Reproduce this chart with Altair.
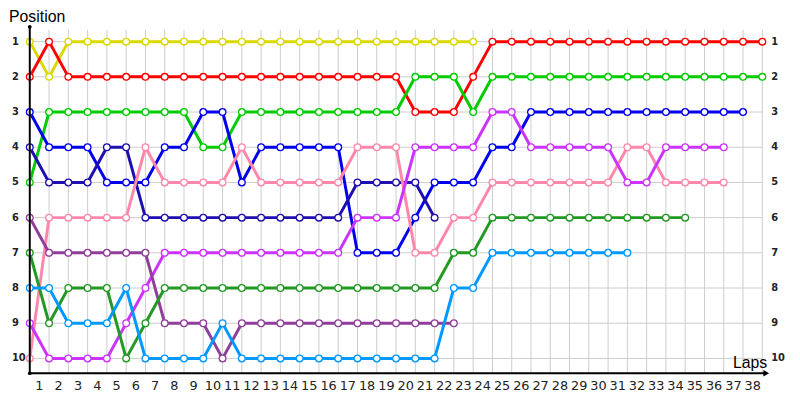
import altair as alt
import pandas as pd

# ---- data -------------------------------------------------------------
lap_ticks = list(range(1, 39))          # x tick labels / vertical grid
positions = list(range(1, 11))          # y labels / horizontal grid

drivers = ["yellow", "red", "green", "blue", "navy", "pink",
           "magenta", "darkpurple", "darkgreen", "lightblue"]
colors = ["#d9d900", "#ff0000", "#00cc00", "#0000ee", "#1f0fb0", "#ff88aa",
          "#cc33ff", "#8f3f99", "#229922", "#0099ff"]

# positions by lap, starting at lap 0
yellow = [1, 2, 1, 1, 1, 1, 1, 1, 1, 1, 1, 1, 1, 1, 1, 1, 1, 1, 1, 1, 1, 1, 1, 1]
red = [2, 1, 2, 2, 2, 2, 2, 2, 2, 2, 2, 2, 2, 2, 2, 2, 2, 2, 2, 2, 3, 3, 3, 2,
       1, 1, 1, 1, 1, 1, 1, 1, 1, 1, 1, 1, 1, 1, 1]
green = [5, 3, 3, 3, 3, 3, 3, 3, 3, 4, 4, 3, 3, 3, 3, 3, 3, 3, 3, 3, 2, 2, 2, 3,
         2, 2, 2, 2, 2, 2, 2, 2, 2, 2, 2, 2, 2, 2, 2]
blue = [3, 4, 4, 4, 5, 5, 5, 4, 4, 3, 3, 5, 4, 4, 4, 4, 4, 7, 7, 7, 6, 5, 5, 5,
        4, 4, 3, 3, 3, 3, 3, 3, 3, 3, 3, 3, 3, 3]
navy = [4, 5, 5, 5, 4, 4, 6, 6, 6, 6, 6, 6, 6, 6, 6, 6, 6, 5, 5, 5, 5, 6]
pink = [10, 6, 6, 6, 6, 6, 4, 5, 5, 5, 5, 4, 5, 5, 5, 5, 5, 4, 4, 4, 7, 7, 6, 6,
        5, 5, 5, 5, 5, 5, 5, 4, 4, 5, 5, 5, 5]
magenta = [9, 10, 10, 10, 10, 9, 8, 7, 7, 7, 7, 7, 7, 7, 7, 7, 7, 6, 6, 6, 4, 4, 4, 4,
           3, 3, 4, 4, 4, 4, 4, 5, 5, 4, 4, 4, 4]
darkpurple = [6, 7, 7, 7, 7, 7, 7, 9, 9, 9, 10, 9, 9, 9, 9, 9, 9, 9, 9, 9, 9, 9, 9]
darkgreen = [7, 9, 8, 8, 8, 10, 9, 8, 8, 8, 8, 8, 8, 8, 8, 8, 8, 8, 8, 8, 8, 8, 7, 7,
             6, 6, 6, 6, 6, 6, 6, 6, 6, 6, 6]
lightblue = [8, 8, 9, 9, 9, 8, 10, 10, 10, 10, 9, 10, 10, 10, 10, 10, 10, 10, 10, 10, 10, 10, 8, 8,
             7, 7, 7, 7, 7, 7, 7, 7]

series = [yellow, red, green, blue, navy, pink, magenta, darkpurple, darkgreen, lightblue]

rows = []
for name, vals in zip(drivers, series):
    for lap, pos in enumerate(vals):
        rows.append({"driver": name, "lap": lap, "pos": pos})
df = pd.DataFrame(rows)

# ---- scales -----------------------------------------------------------
PX_PER_LAP = 740 / 38
W = 756
H = 350
xs = alt.Scale(domain=[0, W / PX_PER_LAP], nice=False, zero=False)
ys = alt.Scale(domain=[1 - 15 / (320 / 9), 10 + 15 / (320 / 9)], reverse=True, nice=False, zero=False)
cs = alt.Scale(domain=drivers, range=colors)

FONT = "DejaVu Sans"
dummy = pd.DataFrame({"a": [0]})

vgrid = alt.Chart(pd.DataFrame({"lap": lap_ticks})).mark_rule(color="#cccccc", strokeWidth=1).encode(
    x=alt.X("lap:Q", scale=xs, axis=None), y=alt.value(3), y2=alt.value(H))

hgrid = alt.Chart(pd.DataFrame({"pos": positions})).mark_rule(color="#cccccc", strokeWidth=1).encode(
    y=alt.Y("pos:Q", scale=ys, axis=None), x=alt.value(0), x2=alt.value(740))

lines = alt.Chart(df).mark_line(strokeWidth=3).encode(
    x=alt.X("lap:Q", scale=xs, axis=None),
    y=alt.Y("pos:Q", scale=ys, axis=None),
    color=alt.Color("driver:N", scale=cs, legend=None),
    order="lap:Q")

points = alt.Chart(df).mark_circle(fill="white", size=46, strokeWidth=1.3, opacity=1, fillOpacity=1).encode(
    x=alt.X("lap:Q", scale=xs, axis=None),
    y=alt.Y("pos:Q", scale=ys, axis=None),
    stroke=alt.Stroke("driver:N", scale=cs, legend=None))

yaxis = alt.Chart(dummy).mark_rule(color="black", strokeWidth=2).encode(
    x=alt.value(0), y=alt.value(0), y2=alt.value(H))
xaxis = alt.Chart(dummy).mark_rule(color="black", strokeWidth=2).encode(
    x=alt.value(0), x2=alt.value(744), y=alt.value(H))
arrow = alt.Chart(dummy).mark_point(shape="triangle-right", filled=True, color="black", size=45, opacity=1).encode(
    x=alt.value(744), y=alt.value(H))
dots = alt.Chart(pd.DataFrame({"yy": [0, H]})).mark_circle(color="black", size=14, opacity=1).encode(
    x=alt.value(0), y=alt.Y("yy:Q", scale=None))

ylab_left = alt.Chart(pd.DataFrame({"pos": positions})).mark_text(
    align="left", baseline="middle", font=FONT, fontSize=10, fontWeight="bold", color="#222222", dx=0).encode(
    x=alt.value(-18), y=alt.Y("pos:Q", scale=ys, axis=None), text="pos:Q")
ylab_right = alt.Chart(pd.DataFrame({"pos": positions})).mark_text(
    align="left", baseline="middle", font=FONT, fontSize=10, fontWeight="bold", color="#222222").encode(
    x=alt.value(749), y=alt.Y("pos:Q", scale=ys, axis=None), text="pos:Q")
xlab = alt.Chart(pd.DataFrame({"lap": lap_ticks})).mark_text(
    align="center", baseline="middle", font=FONT, fontSize=13, color="#222222", dx=-PX_PER_LAP / 2).encode(
    x=alt.X("lap:Q", scale=xs, axis=None), y=alt.value(H + 13), text="lap:Q")

ytitle = alt.Chart(dummy).mark_text(align="left", baseline="middle", font="Liberation Sans",
                                    fontSize=16, color="black", text="Position").encode(
    x=alt.value(-21), y=alt.value(-10))
xtitle = alt.Chart(dummy).mark_text(align="right", baseline="alphabetic", font="Liberation Sans",
                                    fontSize=16, color="black", text="Laps").encode(
    x=alt.value(745), y=alt.value(345))

chart = alt.layer(vgrid, hgrid, lines, points, yaxis, xaxis, arrow, dots,
                  ylab_left, ylab_right, xlab, ytitle, xtitle).properties(
    width=W, height=H, autosize="none",
    padding={"left": 22, "top": 17, "right": 14, "bottom": 25},
).configure_view(stroke=None)

chart.save("out.html", embed_options={"renderer": "svg", "actions": False})
